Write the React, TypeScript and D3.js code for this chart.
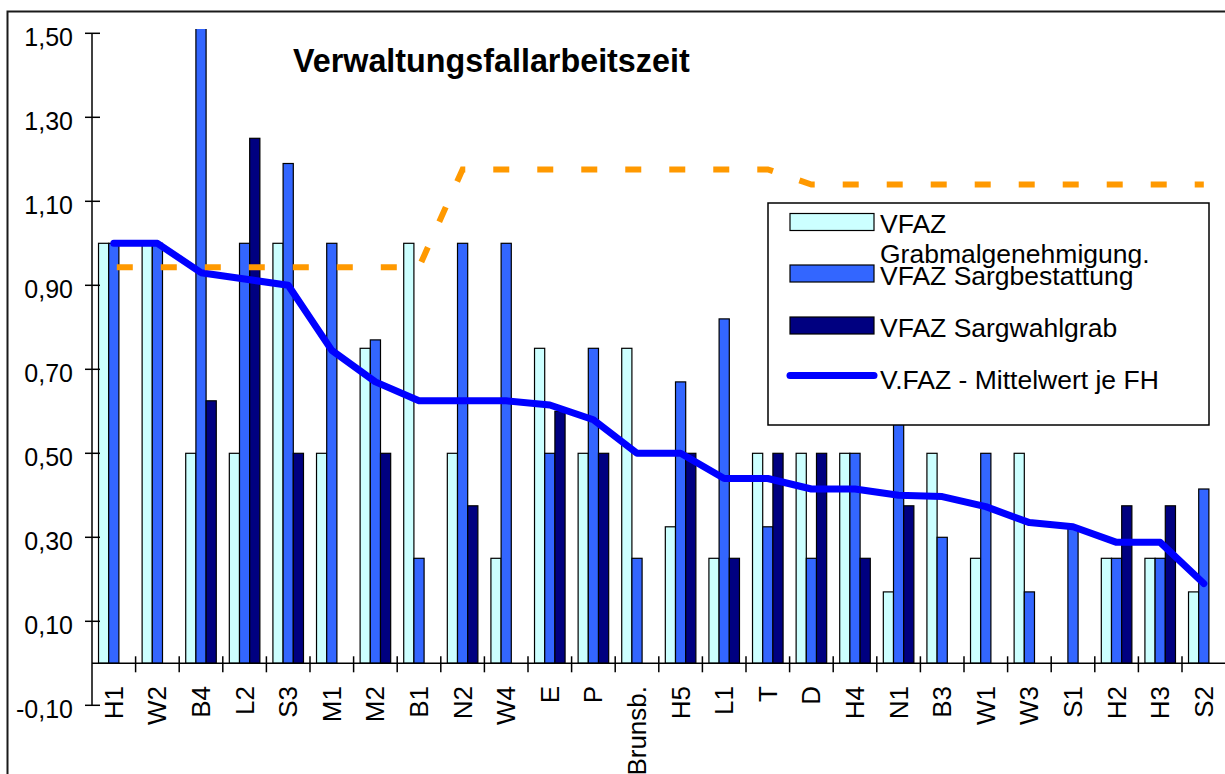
import React from "react";
import * as d3 from "d3";

// categories (Friedhöfe) in chart order
const categories = ["H1", "W2", "B4", "L2", "S3", "M1", "M2", "B1", "N2", "W4", "E", "P", "Brunsb.",
  "H5", "L1", "T", "D", "H4", "N1", "B3", "W1", "W3", "S1", "H2", "H3", "S2"];

// VFAZ Grabmalgenehmigung.
const grabmal = [1.0, 1.0, 0.5, 0.5, 1.0, 0.5, 0.75, 1.0, 0.5, 0.25, 0.75, 0.5, 0.75,
  0.325, 0.25, 0.5, 0.5, 0.5, 0.17, 0.5, 0.25, 0.5, 0, 0.25, 0.25, 0.17];
// VFAZ Sargbestattung
const sargbestattung = [1.0, 1.0, 1.75, 1.0, 1.19, 1.0, 0.77, 0.25, 1.0, 1.0, 0.5, 0.75, 0.25,
  0.67, 0.82, 0.325, 0.25, 0.5, 0.8, 0.3, 0.5, 0.17, 0.325, 0.25, 0.25, 0.415];
// VFAZ Sargwahlgrab
const sargwahlgrab = [0, 0, 0.625, 1.25, 0.5, 0, 0.5, 0, 0.375, 0, 0.6, 0.5, 0,
  0.5, 0.25, 0.5, 0.5, 0.25, 0.375, 0, 0, 0, 0, 0.375, 0.375, 0];
// V.FAZ - Mittelwert je FH
const mittelwert = [1.0, 1.0, 0.93, 0.915, 0.9, 0.745, 0.67, 0.625, 0.625, 0.625, 0.615, 0.58, 0.5,
  0.5, 0.44, 0.44, 0.415, 0.415, 0.4, 0.397, 0.373, 0.335, 0.325, 0.288, 0.288, 0.19];
// orange dashed reference line
const referenz = [0.943, 0.943, 0.943, 0.943, 0.943, 0.943, 0.943, 0.943, 1.176, 1.176, 1.176, 1.176, 1.176,
  1.176, 1.176, 1.176, 1.14, 1.14, 1.14, 1.14, 1.14, 1.14, 1.14, 1.14, 1.14, 1.14];

const yTicks = [-0.1, 0.1, 0.3, 0.5, 0.7, 0.9, 1.1, 1.3, 1.5];

const font = "'Liberation Sans', Arial, Helvetica, sans-serif";

const series = [
  { key: "grab", values: grabmal, color: "#CCFFFF" },
  { key: "sarg", values: sargbestattung, color: "#3366FF" },
  { key: "wahl", values: sargwahlgrab, color: "#000080" },
];

export default function App() {
  const width = 1225;
  const height = 774;

  const x = d3.scaleBand<string>().domain(categories).range([92, 1225.6]);
  const y = d3.scaleLinear().domain([-0.1, 1.5]).range([705.3, 33.3]);
  const inner = d3.scaleBand<string>()
    .domain(series.map((s) => s.key))
    .range([0, x.bandwidth()])
    .paddingOuter(0.64);

  const cx = (i: number) => (x(categories[i]) as number) + x.bandwidth() / 2;
  const line = d3.line<number>().x((_, i) => cx(i)).y((d) => y(d));

  // german decimal comma, plain hyphen for negatives
  const fmt = (v: number) => d3.format(".2f")(v).replace(".", ",").replace("\u2212", "-");

  return (
    <div style={{ position: "absolute", left: 0, top: 0 }}>
      <svg width={width} height={height} style={{ display: "block", background: "#fff" }} fontFamily={font}>
        <defs>
          <clipPath id="plot">
            <rect x={92} y={29} width={1140} height={680} />
          </clipPath>
        </defs>

        {/* chart frame */}
        <rect x={7.5} y={11.5} width={1240} height={800} fill="#fff" stroke="#1a1a1a" strokeWidth={2} />

        {/* title */}
        <text x={293} y={72} fontSize={32.3} fontWeight="bold" fill="#000">Verwaltungsfallarbeitszeit</text>

        {/* bars */}
        <g clipPath="url(#plot)">
          {series.map((s) => (
            <g key={s.key} fill={s.color} stroke="#000" strokeWidth={1.2}>
              {s.values.map((v, i) => v > 0 ? (
                <rect key={i}
                  x={(x(categories[i]) as number) + (inner(s.key) as number)}
                  y={y(v)}
                  width={inner.bandwidth()}
                  height={y(0) - y(v)} />
              ) : null)}
            </g>
          ))}
        </g>

        {/* y axis */}
        <g stroke="#000" strokeWidth={1.5}>
          <line x1={92} x2={92} y1={y(1.5)} y2={y(-0.1)} />
          {yTicks.map((t) => (
            <line key={t} x1={85} x2={100} y1={y(t)} y2={y(t)} />
          ))}
        </g>
        <g fontSize={25} textAnchor="end" fill="#000">
          {yTicks.map((t) => (
            <text key={t} x={73} y={y(t) + 12.5}>{fmt(t)}</text>
          ))}
        </g>

        {/* category axis at 0 */}
        <g stroke="#000" strokeWidth={1.5}>
          <line x1={92} x2={1226} y1={y(0)} y2={y(0)} />
          {categories.slice(1).map((c) => (
            <line key={c} x1={x(c)} x2={x(c)} y1={y(0) - 7} y2={y(0) + 9} />
          ))}
        </g>
        <g fontSize={26} textAnchor="end" fill="#000">
          {categories.map((c, i) => (
            <text key={c} transform={`translate(${cx(i) + 9},686) rotate(-90)`}>{c}</text>
          ))}
        </g>

        {/* lines */}
        <g clipPath="url(#plot)">
          <path d={line(mittelwert) ?? ""} fill="none" stroke="#0000FF" strokeWidth={7}
            strokeLinejoin="round" strokeLinecap="round" />
          <path d={line(referenz) ?? ""} fill="none" stroke="#FF9900" strokeWidth={6}
            strokeDasharray="16 28" strokeDashoffset={-3} />
        </g>

        {/* legend */}
        <g>
          <rect x={768} y={203} width={441} height={222} fill="#fff" stroke="#000" strokeWidth={1.5} />
          <rect x={790} y={213.5} width={84} height={17} fill="#CCFFFF" stroke="#000" strokeWidth={1.2} />
          <rect x={790} y={265} width={84} height={17} fill="#3366FF" stroke="#000" strokeWidth={1.2} />
          <rect x={790} y={317} width={84} height={17} fill="#000080" stroke="#000" strokeWidth={1.2} />
          <line x1={790} x2={874} y1={375.5} y2={375.5} stroke="#0000FF" strokeWidth={7} strokeLinecap="round" />
          <g fontSize={26.5} fill="#000">
            <text x={880} y={233}>VFAZ</text>
            <text x={880} y={263}>Grabmalgenehmigung.</text>
            <text x={880} y={285}>VFAZ Sargbestattung</text>
            <text x={880} y={337}>VFAZ Sargwahlgrab</text>
            <text x={880} y={389}>V.FAZ - Mittelwert je FH</text>
          </g>
        </g>
      </svg>
    </div>
  );
}
